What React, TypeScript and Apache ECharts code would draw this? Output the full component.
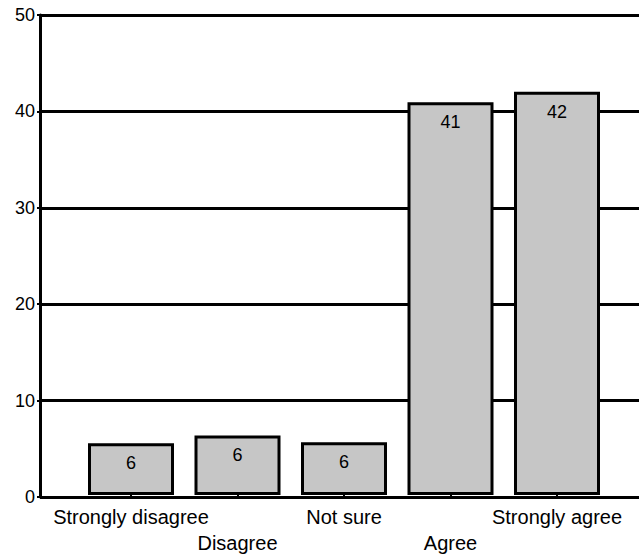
import React, { useEffect, useRef } from "react";
import * as echarts from "echarts";

const categories = ["Strongly disagree", "Disagree", "Not sure", "Agree", "Strongly agree"];
const barHeights = [5.4, 6.2, 5.5, 40.9, 42.0];
const barLabels = ["6", "6", "6", "41", "42"];
const yTicks = { min: 0, max: 50, interval: 10 };

const FONT = "'Liberation Sans', Arial, sans-serif";

export default function App() {
  const ref = useRef<HTMLDivElement>(null);
  useEffect(() => {
    if (!ref.current) return;
    const chart = echarts.init(ref.current, null, { renderer: "svg" });
    chart.setOption({
      animation: false,
      backgroundColor: "#ffffff",
      grid: [
        { left: 40, right: 0, top: 15, height: 482 },
        { left: 77.75, width: 532.5, top: 15, height: 482 },
      ],
      xAxis: [
        { type: "value", gridIndex: 0, min: 0, max: 1, show: false },
        {
          type: "category",
          gridIndex: 1,
          data: categories,
          axisLine: { show: false },
          axisTick: { show: true, alignWithLabel: true, length: 4, lineStyle: { color: "#000", width: 2 } },
          axisLabel: {
            interval: 0,
            color: "#000",
            fontFamily: FONT,
            fontSize: 20,
            lineHeight: 26,
            margin: 9,
            formatter: (v: string, i: number) => (i % 2 === 1 ? "\n" + v : v),
          },
        },
      ],
      yAxis: [
        {
          type: "value",
          gridIndex: 0,
          min: yTicks.min,
          max: yTicks.max,
          interval: yTicks.interval,
          axisLine: { show: true, lineStyle: { color: "#000", width: 3 } },
          axisTick: { show: true, length: 3, lineStyle: { color: "#000", width: 2 } },
          axisLabel: {
            color: "#000",
            fontFamily: FONT,
            fontSize: 18,
            margin: 5,
            padding: [6, 0, 0, 0],
          },
          splitLine: { show: true, lineStyle: { color: "#000", width: 3 } },
        },
        { type: "value", gridIndex: 1, min: yTicks.min, max: yTicks.max, show: false },
      ],
      series: [
        {
          type: "bar",
          xAxisIndex: 1,
          yAxisIndex: 1,
          barWidth: 86,
          data: barHeights.map((v, i) => ({ value: v, label: { formatter: barLabels[i] } })),
          itemStyle: { color: "#c6c6c6", borderColor: "#000", borderWidth: 3 },
          label: {
            show: true,
            position: "insideTop",
            distance: 11,
            color: "#000",
            fontFamily: FONT,
            fontSize: 18,
          },
        },
      ],
    });
    return () => chart.dispose();
  }, []);
  return (
    <div
      ref={ref}
      style={{ position: "fixed", left: 0, top: 0, width: 639, height: 556 }}
    />
  );
}
